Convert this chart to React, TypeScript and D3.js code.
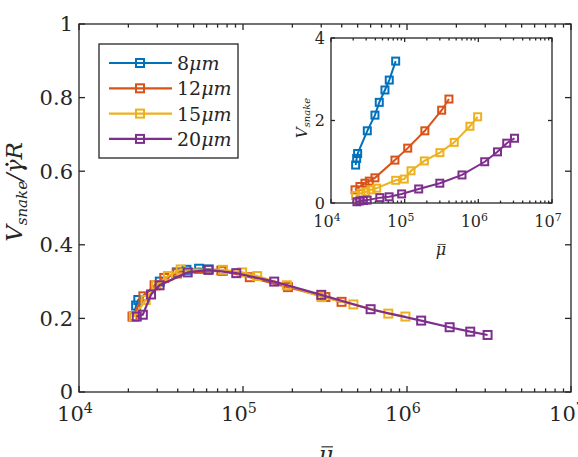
import React, { useRef, useLayoutEffect, useState } from 'react';
import * as d3 from 'd3';

// viscosity ratio (mu bar) and snake velocity per particle size
const blueMu = [2.16e4, 2.23e4, 2.3e4, 3.11e4, 3.95e4, 4.52e4, 5.4e4, 6.18e4, 7.55e4];
const blueRatio = [0.205, 0.235, 0.25, 0.3, 0.325, 0.332, 0.335, 0.333, 0.33];
const blueV = [0.92, 1.08, 1.2, 1.75, 2.13, 2.44, 2.74, 2.98, 3.44];

const orangeMu = [2.12e4, 2.47e4, 2.89e4, 3.31e4, 3.95e4, 7.38e4, 1.1e5, 1.88e5, 3.18e5, 3.99e5];
const orangeRatio = [0.205, 0.26, 0.29, 0.31, 0.322, 0.33, 0.312, 0.285, 0.258, 0.245];
const orangeV = [0.32, 0.4, 0.48, 0.53, 0.61, 1.04, 1.33, 1.75, 2.25, 2.52];

const yellowMu = [2.16e4, 2.55e4, 2.96e4, 3.49e4, 4.17e4, 7.55e4, 9.88e4, 1.22e5, 1.85e5, 3.01e5, 4.71e5, 7.69e5, 9.78e5];
const yellowRatio = [0.205, 0.25, 0.29, 0.315, 0.333, 0.332, 0.325, 0.315, 0.29, 0.258, 0.238, 0.213, 0.205];
const yellowV = [0.18, 0.24, 0.27, 0.32, 0.36, 0.55, 0.58, 0.78, 1.02, 1.22, 1.47, 1.86, 2.09];

const purpleMu = [2.25e4, 2.45e4, 2.75e4, 3.1e4, 4.6e4, 6.15e4, 9.1e4, 1.55e5, 3.0e5, 6.0e5, 1.22e6, 1.82e6, 2.43e6, 3.1e6];
const purpleRatio = [0.205, 0.21, 0.265, 0.29, 0.325, 0.332, 0.323, 0.3, 0.264, 0.225, 0.194, 0.176, 0.164, 0.155];
const purpleV = [0.03, 0.05, 0.06, 0.07, 0.13, 0.15, 0.22, 0.34, 0.48, 0.68, 1.0, 1.24, 1.45, 1.57];

const sizeLabels = ['8', '12', '15', '20'];
const seriesColors = ['#0072BD', '#D95319', '#EDB120', '#7E2F8E'];

const mainYTicks = [0, 0.2, 0.4, 0.6, 0.8, 1];
const insetYTicks = [0, 2, 4];
const decades = [1e4, 1e5, 1e6, 1e7];

const series = [
  { mu: blueMu, ratio: blueRatio, v: blueV },
  { mu: orangeMu, ratio: orangeRatio, v: orangeV },
  { mu: yellowMu, ratio: yellowRatio, v: yellowV },
  { mu: purpleMu, ratio: purpleRatio, v: purpleV },
];

const AXIS = '#262626';
const FONT = 'DejaVu Serif';

const expOf = (d: number) => Math.round(Math.log10(d));

function Frame({ x, y, xTicks, yTicks, fs, tick }: any) {
  const [x0, x1] = x.range();
  const [y0, y1] = y.range();
  const minor = x.ticks().filter((t: number) => !decades.includes(t));
  return (
    <g stroke={AXIS} strokeWidth={1.3} fill="none">
      <rect x={x0} y={y1} width={x1 - x0} height={y0 - y1} fill="#fff" />
      {minor.map((t: number) => (
        <g key={'m' + t}>
          <line x1={x(t)} x2={x(t)} y1={y0} y2={y0 - tick * 0.6} />
          <line x1={x(t)} x2={x(t)} y1={y1} y2={y1 + tick * 0.6} />
        </g>
      ))}
      {xTicks.map((t: number) => (
        <g key={'x' + t}>
          <line x1={x(t)} x2={x(t)} y1={y0} y2={y0 - tick} />
          <line x1={x(t)} x2={x(t)} y1={y1} y2={y1 + tick} />
          <text x={x(t) - 4} y={y0 + fs + 8} fontSize={fs} fill={AXIS} stroke="none" textAnchor="middle">
            10<tspan dy={-fs * 0.4} fontSize={fs * 0.68}>{expOf(t)}</tspan>
          </text>
        </g>
      ))}
      {yTicks.map((t: number) => (
        <g key={'y' + t}>
          <line x1={x0} x2={x0 + tick} y1={y(t)} y2={y(t)} />
          <line x1={x1} x2={x1 - tick} y1={y(t)} y2={y(t)} />
          <text x={x0 - 6} y={y(t) + fs * 0.35} fontSize={fs} fill={AXIS} stroke="none" textAnchor="end">
            {String(t)}
          </text>
        </g>
      ))}
    </g>
  );
}

function Series({ x, y, yKey, size, lw }: any) {
  const line = d3.line();
  return (
    <g>
      {series.map((s, i) => {
        const pts = s.mu.map((m, j) => [x(m), y((s as any)[yKey][j])] as [number, number]);
        return (
          <g key={i} stroke={seriesColors[i]} fill="none">
            <path d={line(pts) || ''} strokeWidth={lw} />
            {pts.map(([px, py], j) => (
              <rect key={j} x={px - size / 2} y={py - size / 2} width={size} height={size} strokeWidth={2} />
            ))}
          </g>
        );
      })}
    </g>
  );
}

// italic mu with an overbar, centred on (cx, baseline)
function MuBar({ cx, y, fs }: any) {
  return (
    <g>
      <text x={cx} y={y} fontSize={fs} fontStyle="italic" textAnchor="middle" fill={AXIS}>
        {'\u03bc'}
      </text>
      <line x1={cx - fs * 0.2} x2={cx + fs * 0.3} y1={y - fs * 0.66} y2={y - fs * 0.66} stroke={AXIS} strokeWidth={fs * 0.05} />
    </g>
  );
}

// rotated y label with a dot placed over the gamma glyph
function RatioLabel() {
  const ref = useRef<SVGTextElement>(null);
  const [dot, setDot] = useState<[number, number] | null>(null);
  useLayoutEffect(() => {
    const el = ref.current;
    if (!el) return;
    const a = el.getStartPositionOfChar(7);
    const b = el.getEndPositionOfChar(7);
    setDot([(a.x + b.x) / 2 + 2, a.y - 15]);
  }, []);
  return (
    <g transform="translate(22,192) rotate(-90)">
      <text ref={ref} x={0} y={0} fontSize={23} textAnchor="middle" fill={AXIS} fontStyle="italic">
        V<tspan fontSize={15} dy={5}>snake</tspan>
        <tspan dy={-5}>/{'\u03b3'}R</tspan>
      </text>
      {dot && <circle cx={dot[0]} cy={dot[1]} r={1.6} fill={AXIS} />}
    </g>
  );
}

export default function App() {
  const x = d3.scaleLog().domain([1e4, 1e7]).range([79, 571]);
  const y = d3.scaleLinear().domain([0, 1]).range([392, 24]);
  const xi = d3.scaleLog().domain([1e4, 1e7]).range([331, 552]);
  const yi = d3.scaleLinear().domain([0, 4]).range([203, 38]);

  return (
    <svg width={578} height={457} style={{ position: 'absolute', left: 0, top: 0, background: '#fff', fontFamily: FONT }}>
      <Frame x={x} y={y} xTicks={decades} yTicks={mainYTicks} fs={21} tick={6} />
      <Series x={x} y={y} yKey="ratio" size={8} lw={2.2} />

      {/* main axis labels */}
      <MuBar cx={326} y={462} fs={23} />
      <RatioLabel />

      {/* legend */}
      <g>
        <rect x={99} y={44} width={139} height={114} fill="#fff" stroke={AXIS} strokeWidth={1.3} />
        {sizeLabels.map((lab, i) => {
          const ly = 63 + i * 25.3;
          return (
            <g key={lab}>
              <line x1={109} x2={172} y1={ly} y2={ly} stroke={seriesColors[i]} strokeWidth={2.2} />
              <rect x={136} y={ly - 4} width={8} height={8} fill="none" stroke={seriesColors[i]} strokeWidth={2} />
              <text x={177} y={ly + 7} fontSize={19} fill={AXIS}>
                {lab}
                <tspan fontStyle="italic">{'\u03bcm'}</tspan>
              </text>
            </g>
          );
        })}
      </g>

      {/* inset: snake velocity */}
      <Frame x={xi} y={yi} xTicks={decades} yTicks={insetYTicks} fs={16} tick={4} />
      <Series x={xi} y={yi} yKey="v" size={7} lw={2} />
      <MuBar cx={441} y={255} fs={16} />
      <text transform="translate(307,118) rotate(-90)" fontSize={15} textAnchor="middle" fill={AXIS} fontStyle="italic">
        V<tspan fontSize={10} dy={3}>snake</tspan>
      </text>
    </svg>
  );
}
